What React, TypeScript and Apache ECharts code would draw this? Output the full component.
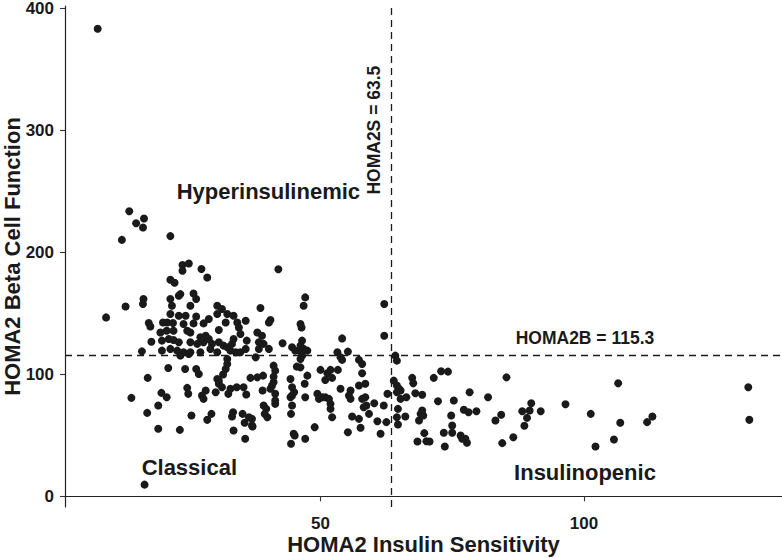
import React, { useEffect, useRef } from "react";
import * as echarts from "echarts";

// [HOMA2 Insulin Sensitivity, HOMA2 Beta Cell Function]
const patients: [number, number][] = [
  [7.7, 383], [13.7, 233.6], [15.0, 223.8], [16.5, 227.6], [16.3, 220.2], [12.3, 210.1], [21.5, 213.2],
  [23.8, 189.5], [25.0, 190.8], [23.8, 184.8], [27.4, 186.2], [28.5, 179.3], [21.5, 177.4], [22.3, 175.0], [42.0, 186.0],
  [9.3, 146.6], [13.0, 155.6], [16.4, 161.7], [16.3, 157.6], [17.4, 142.0], [17.7, 139.2], [17.9, 126.7], [16.1, 118.8],
  [21.1, 105.2], [17.2, 97.1], [14.1, 80.7], [19.8, 84.8], [20.8, 81.2], [24.7, 88.9], [24.9, 84.0], [24.3, 104.4],
  [26.4, 104.4], [26.9, 100.3], [28.2, 86.7], [30.1, 85.3], [32.9, 88.1], [34.1, 89.4], [30.7, 94.8], [31.5, 99.8],
  [32.0, 104.4], [32.3, 108.5], [32.3, 112.6], [21.5, 161.7], [23.1, 164.4], [23.4, 165.7], [21.8, 156.2], [25.9, 166.2],
  [26.4, 161.7], [25.3, 156.2], [21.5, 149.4], [23.1, 148.0], [24.4, 148.0], [20.1, 142.5], [20.9, 142.5], [22.0, 142.0],
  [24.0, 141.2], [25.9, 141.7], [27.8, 141.7], [19.6, 134.3], [20.8, 135.7], [22.1, 135.7], [24.7, 135.7], [25.3, 134.3],
  [30.4, 156.2], [31.3, 153.5], [32.3, 149.4], [33.5, 148.0], [30.4, 149.4], [32.0, 142.5], [30.7, 136.3], [34.2, 142.5],
  [34.5, 138.4], [19.9, 127.6], [21.2, 128.9], [22.1, 128.1], [23.1, 126.2], [19.9, 119.4], [21.5, 120.8], [22.8, 119.4],
  [24.0, 118.0], [25.3, 126.2], [26.6, 124.9], [27.8, 126.2], [28.8, 128.9], [29.4, 124.9], [30.7, 126.2], [31.6, 123.5],
  [27.2, 130.3], [28.2, 131.6], [25.3, 118.0], [27.2, 118.0], [29.1, 120.8], [30.4, 118.0], [23.4, 115.3], [25.0, 116.7],
  [33.5, 128.9], [33.9, 118.0], [32.9, 119.4], [32.3, 122.1], [33.2, 124.9], [26.4, 147.3], [28.8, 145.3],
  [47.1, 163.0], [46.8, 156.2], [38.6, 154.3], [40.5, 144.5], [40.2, 142.5], [35.8, 143.9], [34.8, 133.0], [36.0, 127.6],
  [38.0, 134.3], [38.9, 131.6], [38.3, 126.2], [39.2, 124.9], [40.2, 120.8], [38.3, 120.8], [34.8, 118.0], [35.8, 120.8],
  [42.8, 125.4], [44.6, 122.1], [45.2, 119.4], [37.7, 113.9], [46.2, 141.2], [46.4, 138.4], [46.5, 127.6], [46.2, 123.5],
  [45.9, 119.4], [46.8, 120.8], [47.5, 119.4], [46.5, 115.3], [46.2, 112.6], [46.2, 105.7], [45.5, 106.3], [47.5, 98.9],
  [50.0, 103.6], [51.3, 100.8], [51.9, 103.6], [53.3, 103.6], [50.9, 95.4], [52.2, 97.1], [54.1, 129.4], [53.2, 118.0],
  [53.8, 113.9], [54.1, 111.8], [55.2, 118.6], [57.3, 111.8], [57.9, 108.5], [57.9, 100.8], [62.1, 157.6], [62.1, 131.6],
  [64.2, 115.3], [64.5, 111.2], [41.1, 107.1], [41.4, 103.0], [36.7, 97.1], [38.0, 97.5], [39.1, 98.9], [41.1, 93.5],
  [40.8, 90.8], [40.5, 88.1], [44.3, 96.2], [35.4, 89.4], [39.0, 86.7], [44.6, 89.4], [45.0, 85.3], [44.6, 82.6],
  [53.8, 88.1], [55.7, 86.7], [55.4, 82.6], [57.3, 90.8], [58.5, 92.2], [62.7, 84.0], [63.9, 94.8], [64.5, 90.8],
  [41.1, 98.1], [44.3, 81.2], [44.6, 74.4], [44.4, 67.6], [47.0, 92.2], [47.1, 81.2], [44.9, 51.3], [44.4, 43.1],
  [47.1, 47.2], [48.9, 56.7], [55.7, 79.9], [57.9, 79.9], [58.5, 81.2], [58.2, 73.0], [58.7, 74.4], [60.2, 76.3],
  [62.0, 74.4], [56.0, 65.4], [57.3, 63.5], [57.6, 56.2], [55.2, 52.6], [59.2, 67.6], [60.8, 61.6], [62.5, 60.8],
  [61.4, 51.3], [49.4, 84.0], [49.7, 79.9], [50.3, 81.2], [50.9, 81.2], [51.6, 79.9], [51.9, 75.8], [51.9, 71.7],
  [52.2, 64.8], [37.0, 63.5], [37.0, 58.1], [39.7, 71.7], [39.4, 67.6], [41.4, 75.8], [41.4, 78.5], [41.4, 84.0],
  [17.1, 68.4], [19.2, 55.4], [19.2, 74.4], [23.3, 54.5], [25.5, 66.2], [27.5, 82.6], [27.8, 79.9], [28.5, 62.7],
  [29.3, 67.6], [30.4, 96.2], [30.7, 92.2], [31.3, 89.4], [32.5, 84.0], [33.2, 65.4], [33.4, 68.9], [33.5, 54.0],
  [35.2, 67.6], [35.6, 60.3], [35.7, 47.2], [35.9, 83.4], [36.4, 64.8], [37.1, 57.3], [39.2, 74.4], [39.9, 64.8],
  [45.1, 49.9], [16.6, 9.6],
  [64.9, 88.1], [65.2, 86.7], [64.5, 85.3], [65.2, 79.9], [66.3, 81.2], [64.7, 71.7], [64.5, 64.8], [64.7, 58.9],
  [66.1, 65.4], [67.4, 97.1], [67.6, 92.6], [68.0, 84.5], [69.3, 83.2], [71.5, 97.1], [72.9, 102.5], [74.2, 102.2],
  [69.3, 70.3], [69.0, 67.6], [68.7, 62.1], [69.5, 66.2], [68.4, 45.0], [70.1, 45.2], [70.7, 45.0], [69.7, 51.8],
  [72.3, 77.9], [73.4, 52.1], [75.0, 52.1], [73.6, 40.9], [74.8, 66.2], [75.0, 58.1], [75.3, 78.5], [76.6, 49.9],
  [76.9, 47.2], [77.8, 43.9], [77.5, 47.2], [77.2, 70.9], [78.1, 68.9], [79.6, 69.8], [78.3, 85.3], [81.8, 81.2],
  [83.2, 62.1], [84.3, 66.8], [85.3, 97.5], [84.5, 43.6], [86.6, 48.5], [88.3, 69.7], [89.2, 64.3], [89.7, 70.3],
  [90.0, 76.3], [88.7, 57.8], [91.8, 69.7], [96.5, 75.5], [101.3, 67.6], [102.2, 40.9], [105.7, 46.6], [106.5, 92.6],
  [106.9, 60.3], [112.0, 60.8], [113.0, 65.4], [131.2, 89.4], [131.4, 62.7],
];

const xTicks = [50, 100];
const yTicks = [0, 100, 200, 300, 400];
const xRange = [1.5, 137.6];
const yRange = [-8.7, 401.7];
const homa2sCut = 63.5;
const homa2bCut = 115.3;

// [x, y, text]
const quadrantLabels: [number, number, string][] = [
  [40.1, 249.6, "Hyperinsulinemic"],
  [25.1, 24.0, "Classical"],
  [100.2, 19.2, "Insulinopenic"],
];
const cutLabels: [number, number, string, number][] = [
  [100.2, 129.6, "HOMA2B = 115.3", 0],
  [60.1, 300.0, "HOMA2S = 63.5", 90],
];

const FONT = "'Liberation Sans', Arial, Helvetica, sans-serif";
const INK = "#1a1a1a";

export default function App() {
  const ref = useRef<HTMLDivElement>(null);
  useEffect(() => {
    if (!ref.current) return;
    const chart = echarts.init(ref.current, undefined, { renderer: "svg" });
    const axisCommon = {
      type: "value" as const,
      splitLine: { show: false },
      axisLine: { show: true, lineStyle: { color: "#222", width: 1.2 } },
      axisTick: { show: true, length: 5, lineStyle: { color: "#333", width: 1.1 } },
      nameLocation: "middle" as const,
      nameMoveOverlap: false,
    };
    const tickLabel = (vals: number[], margin: number) => ({
      customValues: vals,
      margin,
      fontFamily: FONT,
      fontWeight: "bold",
      fontSize: 17,
      color: INK,
    });
    const textLabel = (size: number, rotate: number) => ({
      show: true,
      position: "inside",
      rotate,
      formatter: (p: any) => p.value[2],
      fontFamily: FONT,
      fontWeight: "bold",
      fontSize: size,
      color: INK,
      opacity: 1,
    });
    chart.setOption({
      animation: false,
      backgroundColor: "#ffffff",
      grid: { left: 65, right: 0, top: 6, bottom: 51, containLabel: false, outerBoundsMode: "none" },
      xAxis: {
        ...axisCommon,
        min: xRange[0],
        max: xRange[1],
        name: "HOMA2 Insulin Sensitivity",
        nameGap: 26,
        nameTextStyle: { fontFamily: FONT, fontWeight: "bold", fontSize: 22, color: INK },
        axisTick: { ...axisCommon.axisTick, customValues: xTicks },
        axisLabel: tickLabel(xTicks, 8),
      },
      yAxis: {
        ...axisCommon,
        min: yRange[0],
        max: yRange[1],
        name: "HOMA2 Beta Cell Function",
        nameGap: 42,
        nameTextStyle: { fontFamily: FONT, fontWeight: "bold", fontSize: 22, color: INK },
        axisTick: { ...axisCommon.axisTick, customValues: yTicks },
        axisLabel: tickLabel(yTicks, 11),
      },
      series: [
        {
          type: "scatter",
          data: patients,
          symbol: "circle",
          symbolSize: 8,
          itemStyle: { color: INK, opacity: 1 },
          markLine: {
            silent: true,
            symbol: "none",
            label: { show: false },
            lineStyle: { color: INK, width: 1.3, type: [7, 5] },
            data: [{ xAxis: homa2sCut }, { yAxis: homa2bCut }],
          },
          z: 2,
        },
        {
          type: "scatter",
          data: quadrantLabels,
          symbolSize: 1,
          silent: true,
          itemStyle: { color: "rgba(0,0,0,0)", opacity: 1 },
          label: textLabel(22, 0),
          z: 3,
        },
        ...cutLabels.map((c) => ({
          type: "scatter",
          data: [[c[0], c[1], c[2]]],
          symbolSize: 1,
          silent: true,
          itemStyle: { color: "rgba(0,0,0,0)", opacity: 1 },
          label: textLabel(17.5, c[3]),
          z: 3,
        })),
      ],
    });
    return () => chart.dispose();
  }, []);
  return (
    <div
      ref={ref}
      style={{ position: "absolute", left: 0, top: 0, width: 782, height: 558 }}
    />
  );
}
